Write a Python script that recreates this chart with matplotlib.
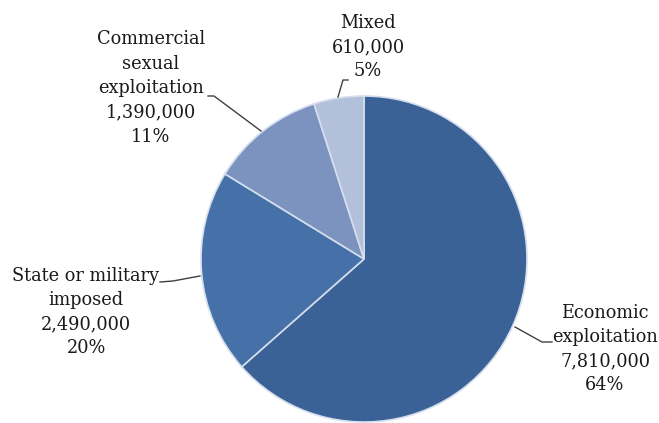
import matplotlib.pyplot as plt

# dados
categorias = ["Economic\nexploitation", "State or military\nimposed",
              "Commercial\nsexual\nexploitation", "Mixed"]
valores = [7810000, 2490000, 1390000, 610000]
percentuais = ["64%", "20%", "11%", "5%"]
cores = ["#3b6296", "#4571a8", "#7c93bf", "#b2c0da"]

W, H = 659, 423
fig = plt.figure(figsize=(W / 100, H / 100), dpi=100)

# posicao do pie em pixels
cx, cy, r = 364, 259, 163
ax = fig.add_axes([(cx - r) / W, 1 - (cy + r) / H, 2 * r / W, 2 * r / H])
ax.pie(valores, colors=cores, startangle=90, counterclock=False,
       wedgeprops=dict(edgecolor="#d5deed", linewidth=1.2))
ax.set_aspect("auto")
ax.set_xlim(-1, 1)
ax.set_ylim(-1, 1)

fonte = dict(family="DejaVu Serif", fontsize=12.8, color="#1a1a1a",
             ha="center", va="center", linespacing=1.45)

# posicoes dos rotulos em pixels (x, y de cima)
pos_texto = [(605, 349), (86, 312), (151, 88), (368, 47)]
for cat, v, p, (x, y) in zip(categorias, valores, percentuais, pos_texto):
    fig.text(x / W, 1 - y / H, f"{cat}\n{v:,}\n{p}", **fonte)

# linhas de chamada
linhas = [
    [(515, 327), (542, 342), (552, 342)],
    [(200, 276), (173, 281), (160, 282)],
    [(261, 131), (214, 96), (208, 96)],
    [(338, 97), (343, 80), (348, 80)],
]
for pts in linhas:
    xs = [p[0] / W for p in pts]
    ys = [1 - p[1] / H for p in pts]
    fig.add_artist(plt.Line2D(xs, ys, color="#404040", lw=1.0,
                              transform=fig.transFigure))

plt.savefig("out.png", dpi=100)
